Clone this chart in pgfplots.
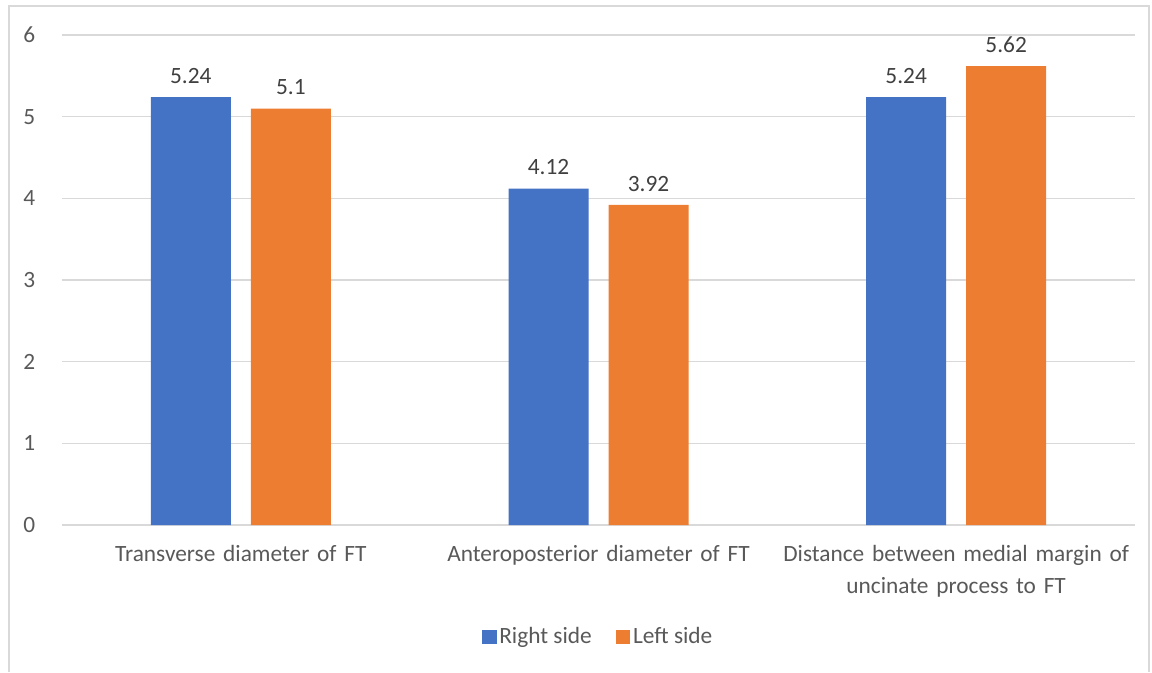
\documentclass[border=0pt]{standalone}
\usepackage{fontspec}
\setmainfont{Carlito}
\usepackage{pgfplots}
\pgfplotsset{compat=1.18}
\definecolor{cblue}{HTML}{4472C4}
\definecolor{corange}{HTML}{ED7D31}
\definecolor{cgrid}{HTML}{D9D9D9}
\definecolor{ctext}{HTML}{595959}
\definecolor{clab}{HTML}{404040}
\begin{document}
\begin{tikzpicture}
\fontsize{17.5}{24}\selectfont
\begin{axis}[
  at={(46.5pt,110.25pt)}, anchor=south west,
  scale only axis, width=804.75pt, height=367.5pt,
  ybar=15pt, bar width=60pt,
  xmin=-0.5, xmax=2.5, ymin=0, ymax=6,
  xtick=data,
  xticklabels={Transverse diameter of FT, Anteroposterior diameter of FT, Distance between medial margin of\\uncinate process to FT},
  xticklabel style={align=center, text width=270pt, font=\fontsize{17.5}{24}\selectfont, text=ctext, yshift=-9pt},
  ytick={0,1,2,3,4,5,6},
  yticklabel style={font=\fontsize{17.5}{24}\selectfont, text=ctext, xshift=-14pt},
  /pgf/number format/assume math mode=true,
  major tick length=0pt,
  axis line style={draw=none},
  ymajorgrids, grid style={cgrid, line width=1.1pt},
  extra y ticks={0}, extra y tick labels={}, extra y tick style={grid style={cgrid,line width=1.3pt}},
  nodes near coords,
  every node near coord/.append style={font=\fontsize{17.5}{24}\selectfont, text=clab, yshift=4pt},
  nodes near coords style={/pgf/number format/.cd, fixed, precision=2},
  legend style={at={(0.5,-0.2286)}, anchor=center, draw=none, legend columns=2, font=\fontsize{17.5}{24}\selectfont, text=ctext, /tikz/every even column/.append style={column sep=16pt}},
  legend image code/.code={\fill[#1] (-3pt,-5.5pt) rectangle (8pt,5.5pt);},
  clip=false,
]
\addplot[fill=cblue, draw=none] coordinates {(0,5.24) (1,4.12) (2,5.24)};
\addplot[fill=corange, draw=none] coordinates {(0,5.1) (1,3.92) (2,5.62)};
\legend{Right side, Left side}
\end{axis}
\draw[cgrid, line width=1.5pt] (6.75pt,0pt) -- (6.75pt,499.5pt) -- (861.75pt,499.5pt) -- (861.75pt,0pt);
\pgfresetboundingbox
\useasboundingbox (0,0) rectangle (864pt,504pt);
\end{tikzpicture}
\end{document}
